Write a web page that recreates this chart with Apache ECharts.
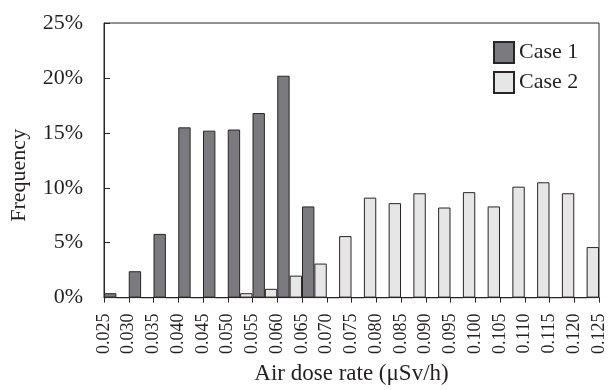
<!DOCTYPE html>
<html>
<head>
<meta charset="utf-8">
<script src="https://cdn.jsdelivr.net/npm/echarts@6/dist/echarts.min.js"></script>
<style>html,body{margin:0;padding:0;background:#fff}#c{width:608px;height:390px}</style>
</head>
<body>
<div id="c"></div>
<script>
// Bin lower bounds (categories), each bin spans to the next tick
const categories = ['0.025','0.030','0.035','0.040','0.045','0.050','0.055','0.060','0.065','0.070',
                    '0.075','0.080','0.085','0.090','0.095','0.100','0.105','0.110','0.115','0.120'];
// Tick labels on the bin boundaries
const tickLabels = ['0.025','0.030','0.035','0.040','0.045','0.050','0.055','0.060','0.065','0.070',
                    '0.075','0.080','0.085','0.090','0.095','0.100','0.105','0.110','0.115','0.120','0.125'];
// Frequency in %
const case1 = [0.4, 2.4, 5.8, 15.5, 15.2, 15.3, 16.8, 20.2, 8.3, 0, 0, 0, 0, 0, 0, 0, 0, 0, 0, 0];
const case2 = [0, 0, 0, 0, 0, 0.4, 0.8, 2.0, 3.1, 5.6, 9.1, 8.6, 9.5, 8.2, 9.6, 8.3, 10.1, 10.5, 9.5, 4.6];
const yTicks = { min: 0, max: 25, interval: 5 };

const ink = '#2b2424';
const font = 'Liberation Serif';
const chart = echarts.init(document.getElementById('c'), null, { renderer: 'canvas' });
chart.setOption({
  animation: false,
  backgroundColor: '#ffffff',
  grid: { left: 101, right: 8, top: 23, bottom: 83, show: true, borderColor: ink, borderWidth: 1, backgroundColor: 'transparent' },
  legend: {
    orient: 'vertical', left: 488, top: 36, itemWidth: 20, itemHeight: 21, itemGap: 7,
    icon: 'rect',
    textStyle: { fontFamily: font, fontSize: 22, color: '#231f20' },
    data: ['Case 1', 'Case 2']
  },
  xAxis: [
    { type: 'category', data: categories, position: 'bottom', boundaryGap: true,
      axisLine: { show: false }, axisTick: { show: false }, axisLabel: { show: false }, splitLine: { show: false } },
    { type: 'value', min: 0, max: tickLabels.length - 1, interval: 1, position: 'bottom',
      name: 'Air dose rate (μSv/h)', nameLocation: 'middle', nameGap: 63,
      nameTextStyle: { fontFamily: font, fontSize: 23, color: '#231f20' },
      axisLine: { show: true, lineStyle: { color: ink, width: 1 } },
      axisTick: { show: true, inside: false, length: 5, lineStyle: { color: ink } },
      axisLabel: { rotate: 90, margin: 16, fontFamily: font, fontSize: 18, color: '#231f20',
                   formatter: v => tickLabels[v] },
      splitLine: { show: false } }
  ],
  yAxis: {
    type: 'value', min: yTicks.min, max: yTicks.max, interval: yTicks.interval,
    name: 'Frequency', nameLocation: 'middle', nameGap: 74,
    nameTextStyle: { fontFamily: font, fontSize: 22, color: '#231f20', padding: [0, 30, 0, 0] },
    axisLine: { show: true, lineStyle: { color: ink, width: 1 } },
    axisTick: { show: true, inside: true, length: 6, lineStyle: { color: ink } },
    axisLabel: { margin: 21, fontFamily: font, fontSize: 22, color: '#231f20', formatter: '{value}%' },
    splitLine: { show: false }
  },
  series: [
    { name: 'Case 1', type: 'bar', xAxisIndex: 0, data: case1, barGap: '0%', barCategoryGap: '0%',
      itemStyle: { color: '#7b7b7f', borderColor: ink, borderWidth: 1 } },
    { name: 'Case 2', type: 'bar', xAxisIndex: 0, data: case2, barGap: '0%', barCategoryGap: '0%',
      itemStyle: { color: '#e6e6e6', borderColor: ink, borderWidth: 1 } }
  ]
});
</script>
</body>
</html>
